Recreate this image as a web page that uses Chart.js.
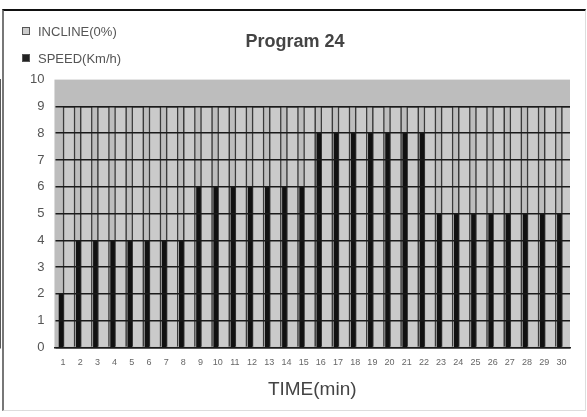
<!DOCTYPE html>
<html>
<head>
<meta charset="utf-8">
<script src="https://cdn.jsdelivr.net/npm/chart.js@4.4.1/dist/chart.umd.min.js"></script>
<style>
  html, body { margin: 0; padding: 0; background: #fff; }
  #wrap { position: relative; width: 587px; height: 417px; }
  #frame {
    position: absolute; left: 2px; top: 9px; width: 581px; height: 399px;
    border-top: 2px solid #111; border-left: 2px solid #777;
    border-right: 1px solid #ddd; border-bottom: 1px solid #ddd;
    pointer-events: none;
  }
  #legend {
    position: absolute; left: 22px; top: 24px;
    font-family: "Liberation Sans", Arial, sans-serif; font-size: 13px; color: #555;
  }
  #legend div { height: 27px; line-height: 15px; }
  #legend span.box {
    display: inline-block; width: 6px; height: 6px; margin-right: 8px;
    border: 1px solid #555; vertical-align: 1px;
  }
</style>
</head>
<body>
<div id="wrap">
  <canvas id="chart" width="587" height="417"></canvas>
  <div id="frame"></div>
  <div id="legend"></div>
</div>
<script>
  const timeLabels = ['1','2','3','4','5','6','7','8','9','10','11','12','13','14','15',
    '16','17','18','19','20','21','22','23','24','25','26','27','28','29','30'];
  const speedValues = [2,4,4,4,4,4,4,4,6,6,6,6,6,6,6,8,8,8,8,8,8,8,5,5,5,5,5,5,5,5];
  const inclineValues = [9,9,9,9,9,9,9,9,9,9,9,9,9,9,9,9,9,9,9,9,9,9,9,9,9,9,9,9,9,9];
  const yTicks = [0,1,2,3,4,5,6,7,8,9,10];

  const legendItems = [
    { label: 'INCLINE(0%)', color: '#cccccc' },
    { label: 'SPEED(Km/h)', color: '#222222' }
  ];

  const legendEl = document.getElementById('legend');
  legendItems.forEach(item => {
    const row = document.createElement('div');
    row.innerHTML = '<span class="box" style="background:' + item.color + '"></span>' + item.label;
    legendEl.appendChild(row);
  });

  const plotBackground = {
    id: 'plotBackground',
    beforeDraw(chart) {
      const { ctx, chartArea } = chart;
      ctx.save();
      ctx.fillStyle = '#bdbdbd';
      ctx.fillRect(chartArea.left, chartArea.top, chartArea.width, chartArea.height);
      ctx.restore();
    }
  };

  const fontFamily = "'Liberation Sans', Arial, sans-serif";

  new Chart(document.getElementById('chart'), {
    type: 'bar',
    data: {
      labels: timeLabels,
      datasets: [
        {
          label: 'SPEED(Km/h)',
          data: speedValues,
          backgroundColor: '#111111',
          borderWidth: 0,
          barThickness: 4
        },
        {
          label: 'INCLINE(0%)',
          data: inclineValues,
          backgroundColor: '#cacaca',
          borderColor: '#3a3a3a',
          borderWidth: 1.5,
          barThickness: 12
        }
      ]
    },
    options: {
      responsive: false,
      animation: false,
      layout: { padding: { left: 20, right: 17, bottom: 12 } },
      plugins: {
        legend: { display: false },
        tooltip: { enabled: false },
        title: {
          display: true,
          text: 'Program 24',
          color: '#444',
          font: { family: fontFamily, size: 18, weight: 'bold' },
          padding: { top: 31, bottom: 27 }
        }
      },
      scales: {
        x: {
          grid: { display: false },
          border: { color: '#222', width: 1.5 },
          ticks: {
            color: '#666',
            font: { family: fontFamily, size: 9 },
            maxRotation: 0,
            autoSkip: false,
            padding: 2
          },
          title: {
            display: true,
            text: 'TIME(min)',
            color: '#444',
            font: { family: fontFamily, size: 19 },
            padding: { top: 8 }
          }
        },
        y: {
          min: 0,
          max: 10,
          afterBuildTicks(axis) {
            axis.ticks = yTicks.map(v => ({ value: v }));
          },
          grid: {
            color: ctx => (ctx.tick && ctx.tick.value === 10 ? 'rgba(0,0,0,0)' : '#1a1a1a'),
            lineWidth: 1.5,
            z: 1,
            drawTicks: false
          },
          border: { color: '#222', width: 1.5 },
          ticks: {
            color: '#555',
            font: { family: fontFamily, size: 13 },
            padding: 10
          }
        }
      }
    },
    plugins: [plotBackground]
  });
</script>
</body>
</html>
